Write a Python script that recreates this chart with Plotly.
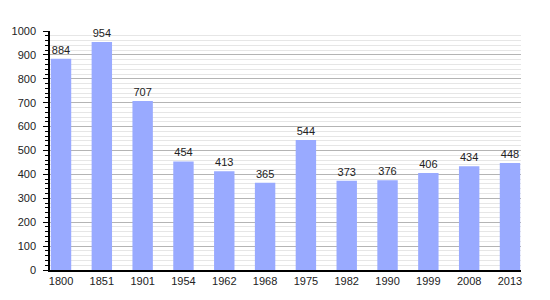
import plotly.graph_objects as go

years = ["1800", "1851", "1901", "1954", "1962", "1968", "1975", "1982", "1990", "1999", "2008", "2013"]
population = [884, 954, 707, 454, 413, 365, 544, 373, 376, 406, 434, 448]

fig = go.Figure()
fig.add_trace(go.Bar(
    x=years, y=population,
    marker=dict(color="#99aaff", line=dict(width=0)),
    text=[str(v) for v in population],
    textposition="outside",
    textfont=dict(family="Liberation Sans, Arial", size=11, color="#222"),
    cliponaxis=False,
    width=0.5,
))

fig.update_layout(
    width=550, height=300,
    margin=dict(l=50, r=29, t=31, b=30),
    paper_bgcolor="white", plot_bgcolor="white",
    showlegend=False,
    font=dict(family="Liberation Sans, Arial", size=11, color="#222"),
    xaxis=dict(
        type="category",
        range=[-0.27, 11.27],
        showgrid=False,
        showline=True, linecolor="black", linewidth=1.5,
        ticks="", tickfont=dict(size=11),
        zeroline=False,
    ),
    yaxis=dict(
        range=[0, 1000],
        dtick=100,
        showgrid=True, gridcolor="#b4b4b4", gridwidth=1,
        showline=True, linecolor="black", linewidth=1.5,
        ticks="outside", ticklen=5, tickcolor="black", tickwidth=1,
        ticklabelstandoff=5,
        minor=dict(dtick=20, showgrid=True, gridcolor="#e6e6e6", gridwidth=1,
                   ticks="outside", ticklen=3, tickcolor="black"),
        zeroline=False,
        tickfont=dict(size=11),
    ),
)

fig.write_html("out.html")
